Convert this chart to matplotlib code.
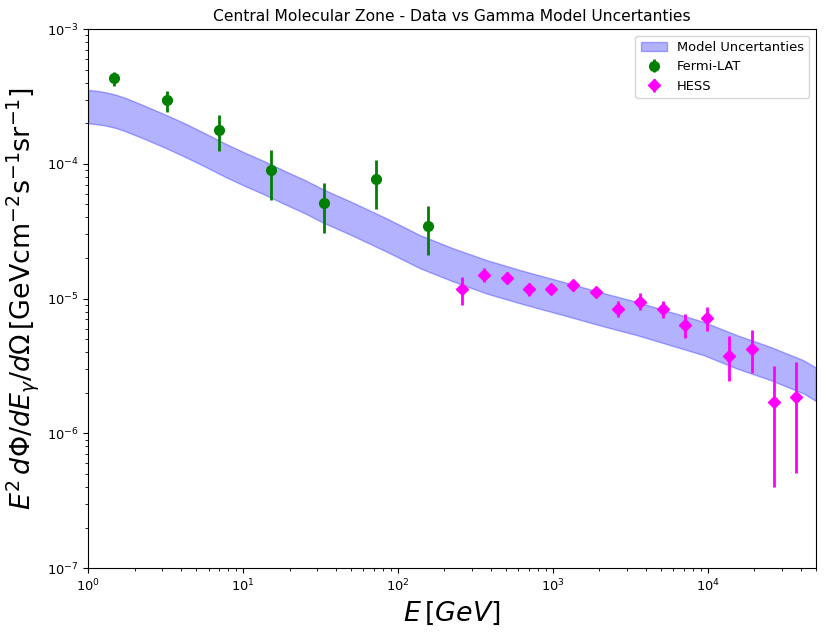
import numpy as np
import matplotlib
matplotlib.use("Agg")
import matplotlib.pyplot as plt

# model uncertainty band (upper / lower edges)
band_E = [1.0, 1.13, 1.28, 1.5, 1.73, 2.32, 3.13, 4.21, 5.67, 7.64, 10.3, 13.9,
          18.7, 25.1, 33.0, 51.5, 84.7, 139, 228, 375, 615, 1294, 2123, 3490,
          5726, 9397, 15440, 25330, 41570, 50000]
band_hi = [3.54e-4, 3.49e-4, 3.41e-4, 3.27e-4, 3.10e-4, 2.70e-4, 2.33e-4, 2.00e-4,
           1.69e-4, 1.42e-4, 1.21e-4, 1.04e-4, 8.85e-5, 7.59e-5, 6.47e-5, 5.15e-5,
           3.94e-5, 2.96e-5, 2.36e-5, 1.93e-5, 1.63e-5, 1.29e-5, 1.10e-5, 9.46e-6,
           7.98e-6, 6.73e-6, 5.36e-6, 4.39e-6, 3.49e-6, 3.08e-6]
band_lo = [2.00e-4, 1.97e-4, 1.93e-4, 1.85e-4, 1.75e-4, 1.53e-4, 1.32e-4, 1.13e-4,
           9.57e-5, 8.04e-5, 6.85e-5, 5.89e-5, 5.01e-5, 4.30e-5, 3.66e-5, 2.92e-5,
           2.23e-5, 1.68e-5, 1.34e-5, 1.09e-5, 9.23e-6, 7.30e-6, 6.23e-6, 5.36e-6,
           4.52e-6, 3.81e-6, 3.03e-6, 2.49e-6, 1.98e-6, 1.74e-6]

# Fermi-LAT points
fermi_E = [1.48, 3.22, 7.02, 15.2, 33.2, 71.9, 156]
fermi_y = [4.37e-4, 2.97e-4, 1.795e-4, 9.06e-5, 5.15e-5, 7.68e-5, 3.47e-5]
fermi_up = [4.84e-4, 3.50e-4, 2.32e-4, 1.27e-4, 7.18e-5, 1.07e-4, 4.87e-5]
fermi_dn = [3.79e-4, 2.42e-4, 1.25e-4, 5.39e-5, 3.08e-5, 4.62e-5, 2.09e-5]

# HESS points
hess_E = [258, 361, 505, 700, 979, 1359, 1896, 2642, 3664, 5178, 7127, 9886,
          13830, 19290, 26900, 37270]
hess_y = [1.17e-5, 1.50e-5, 1.43e-5, 1.18e-5, 1.17e-5, 1.27e-5, 1.12e-5, 8.40e-6,
          9.47e-6, 8.31e-6, 6.39e-6, 7.16e-6, 3.78e-6, 4.24e-6, 1.70e-6, 1.85e-6]
hess_up = [1.445e-5, 1.685e-5, 1.57e-5, 1.30e-5, 1.245e-5, 1.37e-5, 1.21e-5, 9.63e-6,
           1.10e-5, 9.63e-6, 7.63e-6, 8.60e-6, 5.26e-6, 5.83e-6, 3.15e-6, 3.36e-6]
hess_dn = [8.95e-6, 1.32e-5, 1.30e-5, 1.05e-5, 1.09e-5, 1.14e-5, 1.03e-5, 7.25e-6,
           8.26e-6, 7.16e-6, 5.09e-6, 5.71e-6, 2.43e-6, 2.81e-6, 4.0e-7, 5.1e-7]


def main():
    fig = plt.figure(figsize=(8.3, 6.32), dpi=100)
    ax = fig.add_axes([0.106, 0.101, 0.877, 0.853])

    ax.fill_between(band_E, band_lo, band_hi, color="blue", alpha=0.3,
                    label="Model Uncertanties")

    fy = np.array(fermi_y)
    ferr = [fy - np.array(fermi_dn), np.array(fermi_up) - fy]
    ax.errorbar(fermi_E, fermi_y, yerr=ferr, fmt="o", color="green",
                markersize=7, elinewidth=2, label="Fermi-LAT")

    hy = np.array(hess_y)
    herr = [hy - np.array(hess_dn), np.array(hess_up) - hy]
    ax.errorbar(hess_E, hess_y, yerr=herr, fmt="D", color="magenta",
                markersize=6, elinewidth=2, label="HESS")

    ax.set_xscale("log")
    ax.set_yscale("log")
    ax.set_xlim(1, 5e4)
    ax.set_ylim(1e-7, 1e-3)
    ax.tick_params(which="major", labelsize=9.4, length=3.3)
    ax.tick_params(which="minor", length=1.9)

    ax.set_title("Central Molecular Zone - Data vs Gamma Model Uncertanties", fontsize=11.2)
    ax.set_xlabel(r"$E\,[GeV]$", fontsize=19.4)
    ax.set_ylabel(r"$E^2\,d\Phi/dE_{\gamma}/d\Omega\,[\mathrm{GeV cm^{-2}s^{-1}sr^{-1}}]$",
                  fontsize=19.4)
    ax.legend(loc="upper right", fontsize=9.4)

    fig.savefig("out.png", dpi=100)
    plt.close(fig)


if __name__ == "__main__":
    main()
